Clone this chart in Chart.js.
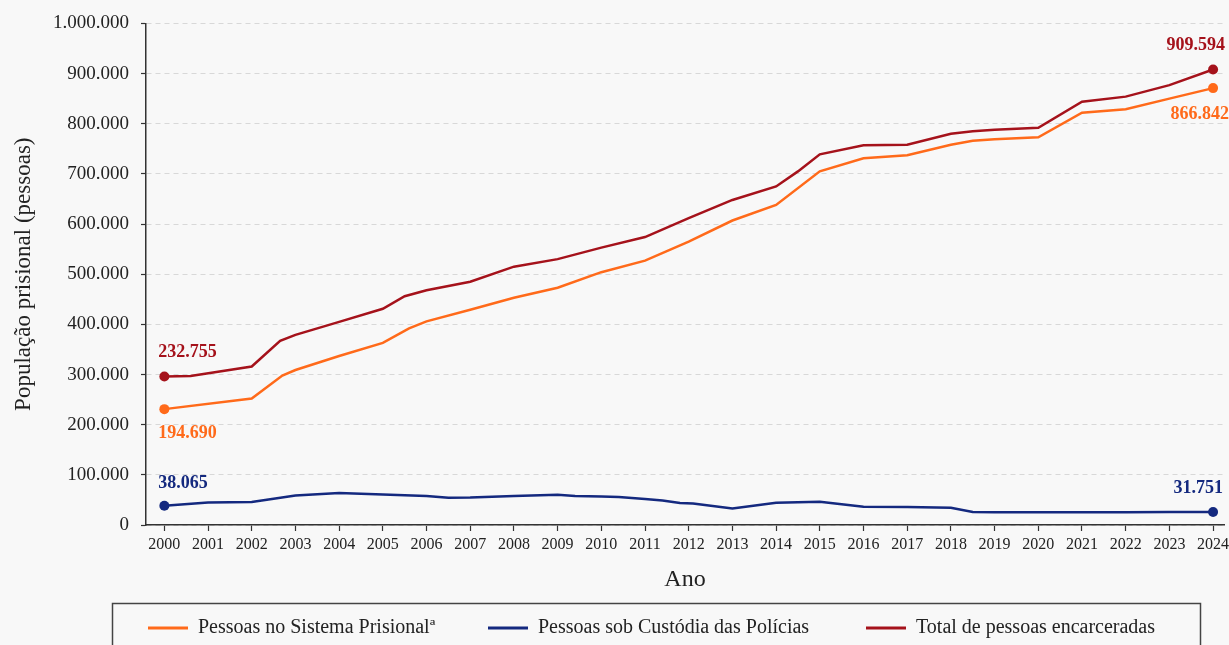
<!DOCTYPE html>
<html lang="pt-BR">
<head>
<meta charset="utf-8">
<title>População prisional</title>
<script src="https://cdn.jsdelivr.net/npm/chart.js@4.4.1/dist/chart.umd.min.js"></script>
<style>
  html, body { margin: 0; padding: 0; background: #f8f8f8; }
  #wrap { width: 1229px; height: 645px; }
</style>
</head>
<body>
<div id="wrap"><canvas id="chart" width="1229" height="645"></canvas></div>
<script>
// Pessoas no Sistema Prisional
const anosSistema = [2000, 2002, 2002.7, 2003, 2004, 2005, 2005.6, 2006, 2007, 2008, 2009, 2010, 2011, 2012,
  2013, 2014, 2015, 2016, 2017, 2018, 2018.5, 2019, 2020, 2021, 2022, 2023, 2024];
const sistemaPrisional = [231000, 252000, 298000, 309000, 337000, 363000, 392000, 406000, 429000, 453000, 473000,
  504000, 527000, 565000, 607000, 638000, 705000, 731000, 737000, 758000, 766000, 769000, 773000, 822000, 829000,
  850000, 871000];
const rotulosSistema = ['194.690', '866.842'];

// Pessoas sob Custódia das Polícias
const anosPolicias = [2000, 2001, 2002, 2003, 2004, 2005, 2006, 2006.5, 2007, 2008, 2009, 2009.4, 2010, 2010.4,
  2011, 2011.4, 2011.8, 2012.1, 2013, 2014, 2015, 2016, 2017, 2018, 2018.5, 2019, 2020, 2021, 2022, 2023, 2024];
const custodiaPolicias = [38500, 45000, 46000, 59000, 64000, 61000, 58000, 54500, 55000, 58000, 60500, 58000,
  57000, 56000, 52000, 49000, 44000, 43000, 33000, 44500, 46500, 36500, 36000, 34500, 26000, 25500, 25500, 25500,
  25500, 26000, 26000];
const rotulosPolicias = ['38.065', '31.751'];

// Total de pessoas encarceradas
const anosTotal = [2000, 2000.6, 2002, 2002.65, 2003, 2004, 2005, 2005.5, 2006, 2007, 2008, 2009, 2010, 2011,
  2012, 2013, 2014, 2014.5, 2015, 2016, 2017, 2018, 2018.5, 2019, 2020, 2021, 2022, 2023, 2024];
const totalEncarceradas = [296000, 297000, 316000, 367000, 379000, 405000, 431000, 456000, 468000, 485000, 515000,
  530000, 553000, 574000, 612000, 648000, 675000, 705000, 739000, 757000, 758000, 780000, 785000, 788000, 792000,
  844000, 854000, 877000, 908000];
const rotulosTotal = ['232.755', '909.594'];

const serif = '"Liberation Serif", "DejaVu Serif", serif';

const series = [
  { label: 'Pessoas no Sistema Prisionalª', anos: anosSistema, valores: sistemaPrisional, rotulos: rotulosSistema,
    cor: '#ff6a1a', dyInicio: 24, dxFim: 16, dyFim: 26 },
  { label: 'Pessoas sob Custódia das Polícias', anos: anosPolicias, valores: custodiaPolicias, rotulos: rotulosPolicias,
    cor: '#14297f', dyInicio: -22, dxFim: 10, dyFim: -24 },
  { label: 'Total de pessoas encarceradas', anos: anosTotal, valores: totalEncarceradas, rotulos: rotulosTotal,
    cor: '#a5121b', dyInicio: -24, dxFim: 12, dyFim: -24 }
];

function formatar(v) {
  return String(v).replace(/\B(?=(\d{3})+(?!\d))/g, '.');
}

// rótulos do primeiro e do último ponto
const rotulosPlugin = {
  id: 'rotulos',
  afterDatasetsDraw(chart) {
    const ctx = chart.ctx;
    ctx.save();
    ctx.font = 'bold 18px ' + serif;
    ctx.textBaseline = 'middle';
    series.forEach((s, i) => {
      const pts = chart.getDatasetMeta(i).data;
      const first = pts[0], last = pts[pts.length - 1];
      ctx.fillStyle = s.cor;
      ctx.textAlign = 'left';
      ctx.fillText(s.rotulos[0], first.x - 6, first.y + s.dyInicio);
      ctx.textAlign = 'right';
      ctx.fillText(s.rotulos[1], last.x + s.dxFim, last.y + s.dyFim);
    });
    ctx.restore();
  }
};

// legenda com moldura embaixo
const legendaPlugin = {
  id: 'legenda',
  afterDraw(chart) {
    const ctx = chart.ctx;
    const itemX = [148, 488, 866];
    const y = 628;
    ctx.save();
    ctx.strokeStyle = '#444';
    ctx.lineWidth = 1.5;
    ctx.strokeRect(112.5, 603.5, 1088, 70);
    ctx.font = '20px ' + serif;
    ctx.textBaseline = 'middle';
    ctx.textAlign = 'left';
    series.forEach((s, i) => {
      ctx.strokeStyle = s.cor;
      ctx.lineWidth = 3;
      ctx.beginPath();
      ctx.moveTo(itemX[i], y);
      ctx.lineTo(itemX[i] + 40, y);
      ctx.stroke();
      ctx.fillStyle = '#222';
      ctx.fillText(s.label, itemX[i] + 50, y);
    });
    ctx.restore();
  }
};

new Chart(document.getElementById('chart'), {
  type: 'line',
  data: {
    datasets: series.map(s => ({
      label: s.label,
      data: s.anos.map((a, i) => ({ x: a, y: s.valores[i] })),
      borderColor: s.cor,
      backgroundColor: s.cor,
      borderWidth: 2.5,
      tension: 0,
      fill: false,
      pointRadius: ctx => (ctx.dataIndex === 0 || ctx.dataIndex === s.anos.length - 1) ? 5 : 0,
      pointBorderWidth: 0,
      pointHoverRadius: 0
    }))
  },
  options: {
    responsive: false,
    animation: false,
    layout: { padding: { top: 23, right: 0, bottom: 0, left: 0 } },
    plugins: {
      legend: { display: false },
      tooltip: { enabled: false }
    },
    scales: {
      x: {
        type: 'linear',
        min: 1999.58,
        max: 2024.25,
        afterFit: s => { s.height = 120; s.paddingLeft = 0; s.paddingRight = 0; },
        ticks: {
          stepSize: 1, includeBounds: false, autoSkip: false, maxRotation: 0, padding: 4,
          color: '#222', font: { family: serif, size: 16 },
          callback: v => String(v)
        },
        grid: { drawOnChartArea: false, drawTicks: true, tickLength: 6, tickColor: '#333', tickWidth: 1.2 },
        border: { display: true, color: '#333', width: 1.5 },
        title: {
          display: true, text: 'Ano', color: '#222',
          font: { family: serif, size: 24 }, padding: { top: 0, bottom: 51 }
        }
      },
      y: {
        min: 0,
        max: 1000000,
        afterFit: s => { s.width = 146; },
        ticks: {
          stepSize: 100000, padding: 12, color: '#222', font: { family: serif, size: 19 },
          callback: v => formatar(v)
        },
        grid: { color: '#d8d8d8', lineWidth: 1, tickColor: '#333', tickLength: 5, tickWidth: 1.2 },
        border: { display: true, color: '#333', width: 1.5, dash: [5, 4] },
        title: {
          display: true, text: 'População prisional (pessoas)', color: '#222',
          font: { family: serif, size: 23 }, padding: { top: 10, bottom: 0 }
        }
      }
    }
  },
  plugins: [rotulosPlugin, legendaPlugin]
});
</script>
</body>
</html>
